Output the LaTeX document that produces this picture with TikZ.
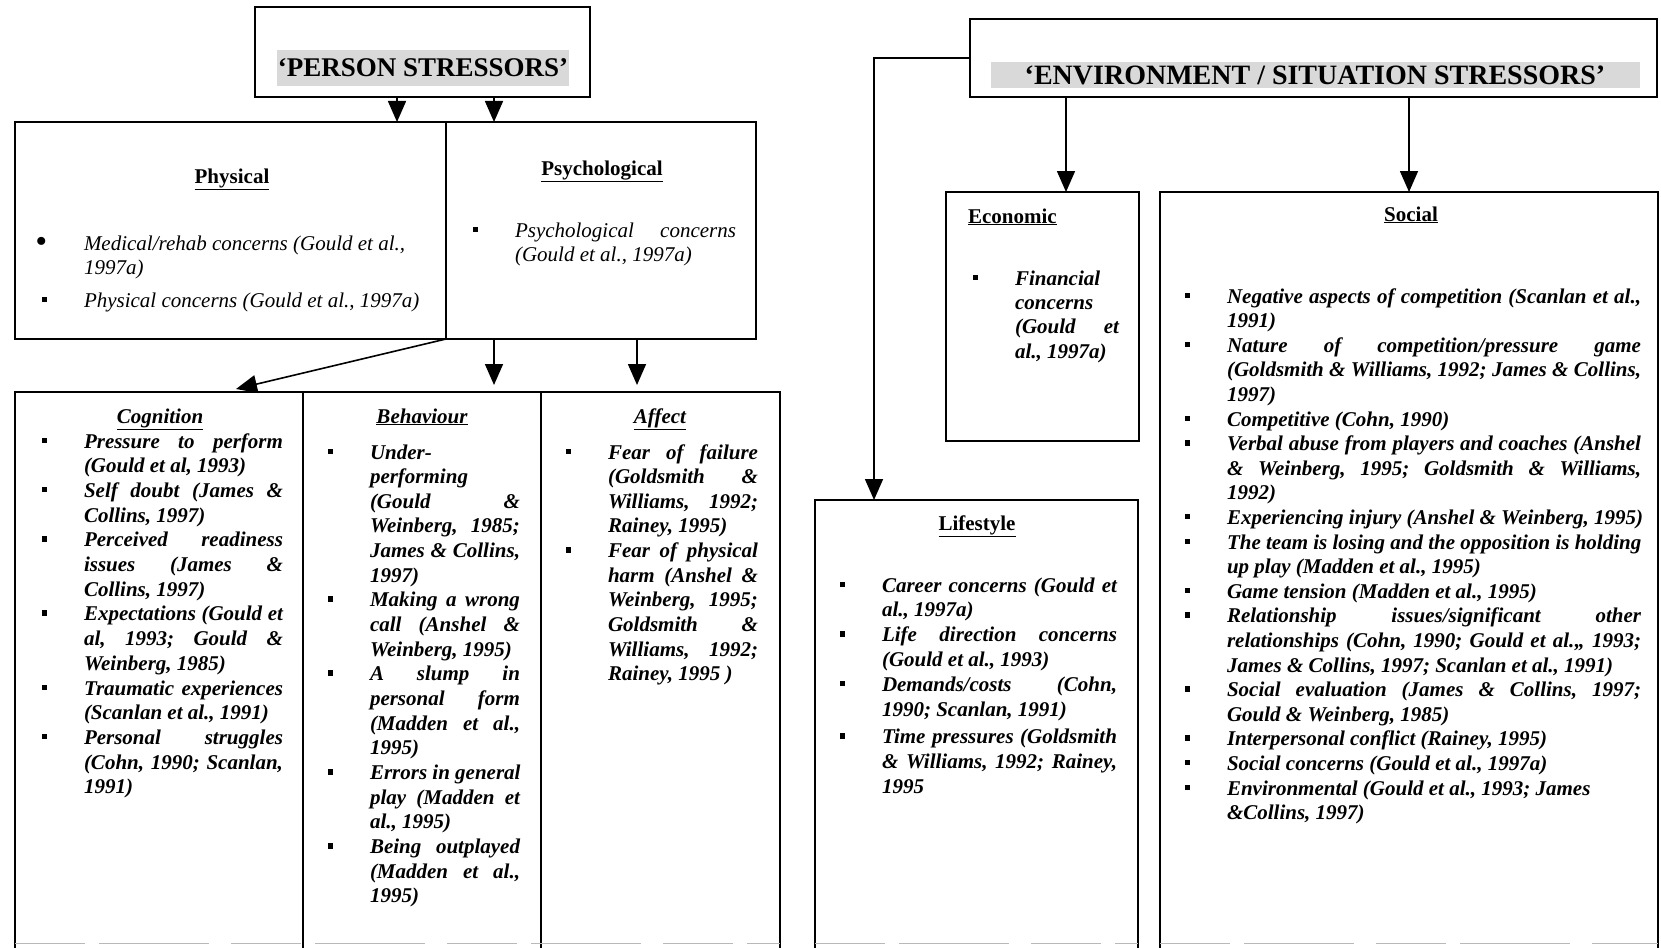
\documentclass[tikz,border=0pt]{standalone}
\usepackage{fontspec}
\setmainfont{Liberation Serif}
\usetikzlibrary{arrows.meta}

% column width used by justified lines
\newdimen\cw
\newcommand{\sqbul}{\raisebox{5pt}{\rule{5.5pt}{5.5pt}}}
\newcommand{\rdbul}{\raisebox{-2pt}{\scalebox{1.6}{\symbol{"2022}}}}
% first line of an item, bullet hanging to the left
\newcommand{\bitem}[2][\sqbul]{\hbox{\llap{#1\hskip 37pt}#2}}
% justified line (spaces stretch to the column width)
\newcommand{\jline}[1]{\hbox to \cw{\spaceskip=\fontdimen2\font plus 1fil\relax #1}}
% plain line
\newcommand{\pline}[1]{\hbox{#1}}
\newcommand{\bifont}{\fontsize{21pt}{24.7pt}\selectfont\bfseries\itshape\frenchspacing}
\newcommand{\itfont}{\fontsize{21pt}{24.7pt}\selectfont\itshape\frenchspacing}

\tikzset{
  box/.style={draw, line width=1.6pt, anchor=north west, inner sep=0pt, outer sep=0pt},
  arr/.style={line width=1.6pt, -{Triangle[width=18pt,length=21pt]}},
  titleshade/.style={fill=gray!30, inner sep=0pt, outer sep=0pt,
    font=\bfseries},
  txt/.style={anchor=base west, inner sep=0pt, outer sep=0pt},
  head/.style={anchor=base, inner sep=0pt, outer sep=0pt,
    font=\fontsize{21pt}{25pt}\selectfont\bfseries},
  headit/.style={head, font=\fontsize{21pt}{25pt}\selectfont\bfseries\itshape},
  cutedge/.style={draw=gray!55, line width=1pt, dash pattern=on 70pt off 14pt on 110pt off 22pt},
}

\begin{document}
\begin{tikzpicture}[x=1pt,y=-1pt]
\useasboundingbox (0,0) rectangle (1661,947);

% ---------- boxes ----------
\node[box, minimum width=335pt, minimum height=90pt]  (person) at (255,7) {};
\node[box, minimum width=687pt, minimum height=78pt]  (env)    at (970,19) {};
\node[box, minimum width=431pt, minimum height=217pt] (phys)   at (15,122) {};
\node[box, minimum width=310pt, minimum height=217pt] (psych)  at (446,122) {};
\node[box, minimum width=288pt, minimum height=570pt] (cog)    at (15,392) {};
\node[box, minimum width=238pt, minimum height=570pt] (beh)    at (303,392) {};
\node[box, minimum width=239pt, minimum height=570pt] (aff)    at (541,392) {};
\node[box, minimum width=193pt, minimum height=249pt] (econ)   at (946,192) {};
\node[box, minimum width=498pt, minimum height=770pt] (social) at (1160,192) {};
\node[box, minimum width=323pt, minimum height=462pt] (life)   at (815,500) {};

% faint lower edges where the page is cut
\draw[cutedge] (cog.west |- 0,943) -- (aff.east |- 0,943);
\draw[cutedge] (life.west |- 0,943) -- (life.east |- 0,943);
\draw[cutedge] (social.west |- 0,943) -- (social.east |- 0,943);

% ---------- titles ----------
\node[titleshade, minimum width=292pt, minimum height=36pt,
  font=\fontsize{27pt}{30pt}\selectfont\bfseries] (ptitle) at (423,68) {‘PERSON STRESSORS’};
\node[titleshade, minimum width=649pt, minimum height=26pt,
  font=\fontsize{28pt}{30pt}\selectfont\bfseries] (etitle) at (1315,75) {‘ENVIRONMENT / SITUATION STRESSORS’};

% ---------- connectors ----------
\draw[arr] ([xshift=-25.5pt]person.south) -- ([xshift=-25.5pt]person.south |- phys.north);
\draw[arr] ([xshift=71.5pt]person.south) -- ([xshift=71.5pt]person.south |- psych.north);
\draw[arr] (phys.south east) -- ([xshift=221pt,yshift=3pt]cog.north west);
\draw[arr] ([xshift=-107pt]psych.south) -- ([xshift=-107pt,yshift=7pt]psych.south |- beh.north);
\draw[arr] ([xshift=36pt]psych.south) -- ([xshift=36pt,yshift=7pt]psych.south |- aff.north);
\draw[arr] ([xshift=-247.5pt]env.south) -- ([xshift=-247.5pt]env.south |- econ.north);
\draw[arr] ([xshift=95.5pt]env.south) -- ([xshift=95.5pt]env.south |- social.north);
\draw[arr] (env.west) -| ([xshift=-102.5pt]life.north);

% ---------- headings ----------
\node[head] (physh) at (232,183) {\underline{Physical}};
\node[head] (psychh) at (602,175) {\underline{Psychological}};
\node[headit] (cogh) at (160,423) {\underline{Cognition}};
\node[headit] (behh) at (422,423) {\underline{Behaviour}};
\node[headit] (affh) at (660,423) {\underline{Affect}};
\node[head, anchor=base west] (econh) at (968,223) {\underline{Economic}};
\node[head] (socialh) at (1411,221) {\underline{Social}};
\node[head] (lifeh) at (977,530) {\underline{Lifestyle}};

% ---------- lists ----------
\node[txt, font=\itfont] (phystxt) at (84,250) {\vtop{\baselineskip=24pt
  \bitem[\rdbul]{\pline{Medical/rehab concerns (Gould et al.,}}
  \pline{1997a)}
  \vskip 9pt
  \bitem{\pline{Physical concerns (Gould et al., 1997a)}}}};

\node[txt, font=\itfont] (psychtxt) at (515,237) {\vtop{\cw=221pt\baselineskip=24pt
  \bitem{\jline{Psychological concerns}}
  \pline{(Gould et al., 1997a)}}};

\node[txt, font=\bifont] (cogtxt) at (84,448) {\vtop{\cw=199pt\baselineskip=24.7pt
  \bitem{\jline{Pressure to perform}}
  \pline{(Gould et al, 1993)}
  \bitem{\jline{Self doubt (James \&}}
  \pline{Collins, 1997)}
  \bitem{\jline{Perceived readiness}}
  \jline{issues (James \&}
  \pline{Collins, 1997)}
  \bitem{\jline{Expectations (Gould et}}
  \jline{al, 1993; Gould \&}
  \pline{Weinberg, 1985)}
  \bitem{\jline{Traumatic experiences}}
  \pline{(Scanlan et al., 1991)}
  \bitem{\jline{Personal struggles}}
  \jline{(Cohn, 1990; Scanlan,}
  \pline{1991)}}};

\node[txt, font=\bifont] (behtxt) at (370,459) {\vtop{\cw=150pt\baselineskip=24.66pt
  \bitem{\pline{Under-}}
  \pline{performing}
  \jline{(Gould \&}
  \jline{Weinberg, 1985;}
  \jline{James \& Collins,}
  \pline{1997)}
  \bitem{\jline{Making a wrong}}
  \jline{call (Anshel \&}
  \pline{Weinberg, 1995)}
  \bitem{\jline{A slump in}}
  \jline{personal form}
  \jline{(Madden et al.,}
  \pline{1995)}
  \bitem{\jline{Errors in general}}
  \jline{play (Madden et}
  \pline{al., 1995)}
  \bitem{\jline{Being outplayed}}
  \jline{(Madden et al.,}
  \pline{1995)}}};

\node[txt, font=\bifont] (afftxt) at (608,459) {\vtop{\cw=150pt\baselineskip=24.66pt
  \bitem{\jline{Fear of failure}}
  \jline{(Goldsmith \&}
  \jline{Williams, 1992;}
  \pline{Rainey, 1995)}
  \bitem{\jline{Fear of physical}}
  \jline{harm (Anshel \&}
  \jline{Weinberg, 1995;}
  \jline{Goldsmith \&}
  \jline{Williams, 1992;}
  \pline{Rainey, 1995 )}}};

\node[txt, font=\bifont] (econtxt) at (1015,285) {\vtop{\cw=104pt\baselineskip=24.4pt
  \bitem{\pline{Financial}}
  \pline{concerns}
  \jline{(Gould et}
  \pline{al., 1997a)}}};

\node[txt, font=\bifont] (lifetxt) at (882,592) {\vtop{\cw=235pt\baselineskip=24.8pt
  \bitem{\jline{Career concerns (Gould et}}
  \pline{al., 1997a)}
  \bitem{\jline{Life direction concerns}}
  \pline{(Gould et al., 1993)}
  \bitem{\jline{Demands/costs (Cohn,}}
  \pline{1990; Scanlan, 1991)}
  \vskip 3pt
  \bitem{\jline{Time pressures (Goldsmith}}
  \jline{\& Williams, 1992; Rainey,}
  \pline{1995}}};

\node[txt, font=\bifont] (socialtxt) at (1227,303) {\vtop{\cw=414pt\baselineskip=24.6pt
  \bitem{\jline{Negative aspects of competition (Scanlan et al.,}}
  \pline{1991)}
  \bitem{\jline{Nature of competition/pressure game}}
  \jline{(Goldsmith \& Williams, 1992; James \& Collins,}
  \pline{1997)}
  \bitem{\pline{Competitive (Cohn, 1990)}}
  \bitem{\jline{Verbal abuse from players and coaches (Anshel}}
  \jline{\& Weinberg, 1995; Goldsmith \& Williams,}
  \pline{1992)}
  \bitem{\jline{Experiencing injury (Anshel \& Weinberg, 1995)}}
  \bitem{\jline{The team is losing and the opposition is holding}}
  \pline{up play (Madden et al., 1995)}
  \bitem{\pline{Game tension (Madden et al., 1995)}}
  \bitem{\jline{Relationship issues/significant other}}
  \jline{relationships (Cohn, 1990; Gould et al.,, 1993;}
  \pline{James \& Collins, 1997; Scanlan et al., 1991)}
  \bitem{\jline{Social evaluation (James \& Collins, 1997;}}
  \pline{Gould \& Weinberg, 1985)}
  \bitem{\pline{Interpersonal conflict (Rainey, 1995)}}
  \bitem{\pline{Social concerns (Gould et al., 1997a)}}
  \bitem{\pline{Environmental (Gould et al., 1993; James}}
  \pline{\&Collins, 1997)}}};

\end{tikzpicture}
\end{document}
